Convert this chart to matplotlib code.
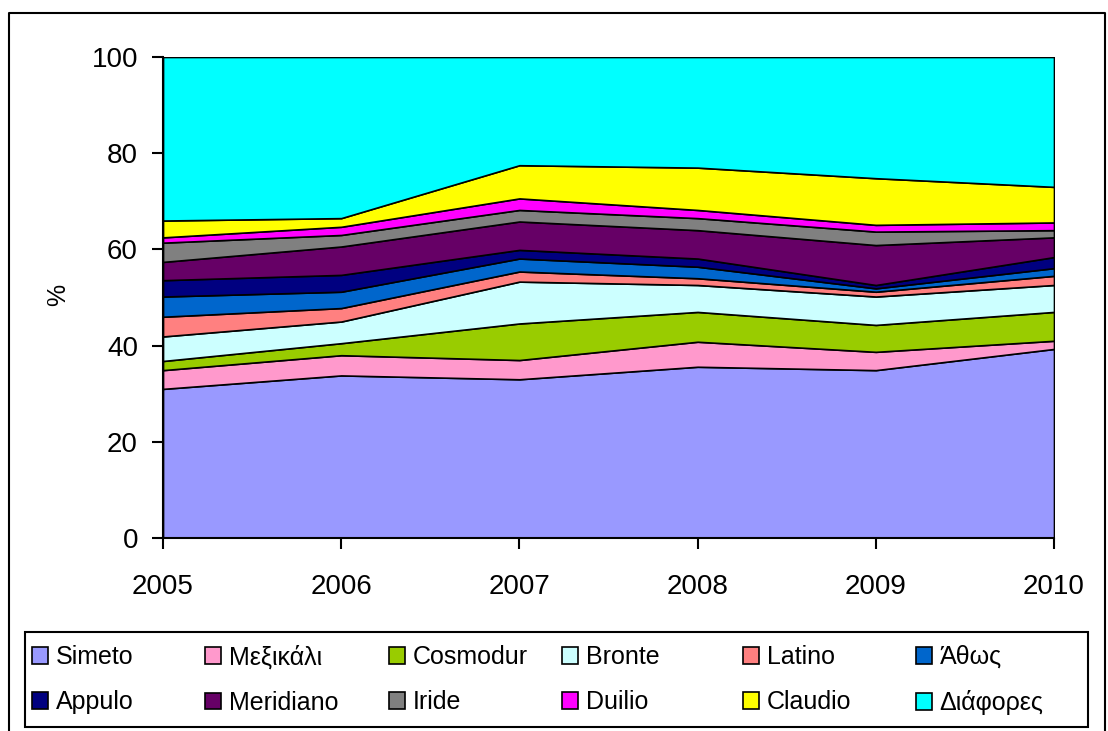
import matplotlib
matplotlib.use("Agg")
import matplotlib.pyplot as plt
from matplotlib.lines import Line2D
from matplotlib.patches import Rectangle

plt.rcParams['font.family'] = ['Liberation Sans', 'DejaVu Sans']

W, H = 1108, 731

years = [2005, 2006, 2007, 2008, 2009, 2010]
names = ['Simeto', 'Μεξικάλι', 'Cosmodur', 'Bronte', 'Latino', 'Άθως',
         'Appulo', 'Meridiano', 'Iride', 'Duilio', 'Claudio', 'Διάφορες']

# shares (%) per year
simeto    = [31.0, 33.8, 33.0, 35.6, 34.9, 39.3]
mexikali  = [3.9, 4.2, 4.0, 5.2, 3.8, 1.7]
cosmodur  = [1.9, 2.5, 7.6, 6.2, 5.6, 6.0]
bronte    = [5.1, 4.5, 8.7, 5.6, 5.9, 5.6]
latino    = [4.1, 2.8, 2.1, 1.4, 1.0, 1.9]
athos     = [4.2, 3.4, 2.7, 2.4, 0.7, 1.6]
appulo    = [3.4, 3.5, 1.8, 1.7, 0.7, 2.3]
meridiano = [3.8, 5.9, 5.9, 5.9, 8.3, 4.1]
iride     = [4.0, 2.4, 2.4, 2.5, 2.8, 1.5]
duilio    = [1.1, 1.7, 2.4, 1.7, 1.4, 1.6]
claudio   = [3.5, 1.8, 6.9, 8.8, 9.7, 7.4]
diafores  = [34.0, 33.5, 22.5, 23.0, 25.2, 27.0]

series = [simeto, mexikali, cosmodur, bronte, latino, athos,
          appulo, meridiano, iride, duilio, claudio, diafores]

colors = ['#9999FF', '#FF99CC', '#99CC00', '#CCFFFF', '#FF8080', '#0066CC',
          '#000080', '#660066', '#808080', '#FF00FF', '#FFFF00', '#00FFFF']

fig = plt.figure(figsize=(W / 100, H / 100), dpi=100)
ax = fig.add_axes([163 / W, 1 - 538 / H, (1054 - 163) / W, (538 - 57) / H])

polys = ax.stackplot(years, *series, colors=colors, labels=names,
                     edgecolor='black', linewidth=1.2)

ax.set_xlim(2005, 2010)
ax.set_ylim(0, 100)
ax.set_xticks(years)
ax.set_yticks([0, 20, 40, 60, 80, 100])
ax.tick_params(axis='both', labelsize=20, length=8, width=1.5, direction='out',
               colors='black')
ax.tick_params(axis='x', pad=18)
ax.tick_params(axis='y', pad=10)
for s in ['top', 'right']:
    ax.spines[s].set_visible(False)
for s in ['left', 'bottom']:
    ax.spines[s].set_linewidth(1.5)
ax.set_ylabel('%', fontsize=18)
ax.yaxis.set_label_coords((70 - 163) / 891, 0.505)

# Legend: one small legend per column so columns sit where Excel put them
col_x = [32, 205, 389, 562, 743, 916]
for i, x in enumerate(col_x):
    lg = fig.legend(handles=[polys[i], polys[i + 6]],
                    labels=[names[i], names[i + 6]],
                    loc='upper left', bbox_to_anchor=(x / W, 1 - 645 / H),
                    fontsize=18, frameon=False, borderpad=0, borderaxespad=0,
                    handlelength=0.65, handleheight=0.65, handletextpad=0.3,
                    labelspacing=0.85)
    for h in lg.legend_handles:
        h.set_linewidth(1.2)

# legend box
fig.add_artist(Rectangle((25 / W, 1 - 727 / H), (1088 - 25) / W, 95 / H,
                         transform=fig.transFigure, fill=False,
                         edgecolor='black', lw=1.5))

# outer chart frame
frame_x = [9 / W, 9 / W, 1105 / W, 1105 / W]
frame_y = [0, 1 - 13 / H, 1 - 13 / H, 0]
fig.add_artist(Line2D(frame_x, frame_y, transform=fig.transFigure,
                      color='black', lw=1.5))

fig.savefig('out.png', dpi=100)
